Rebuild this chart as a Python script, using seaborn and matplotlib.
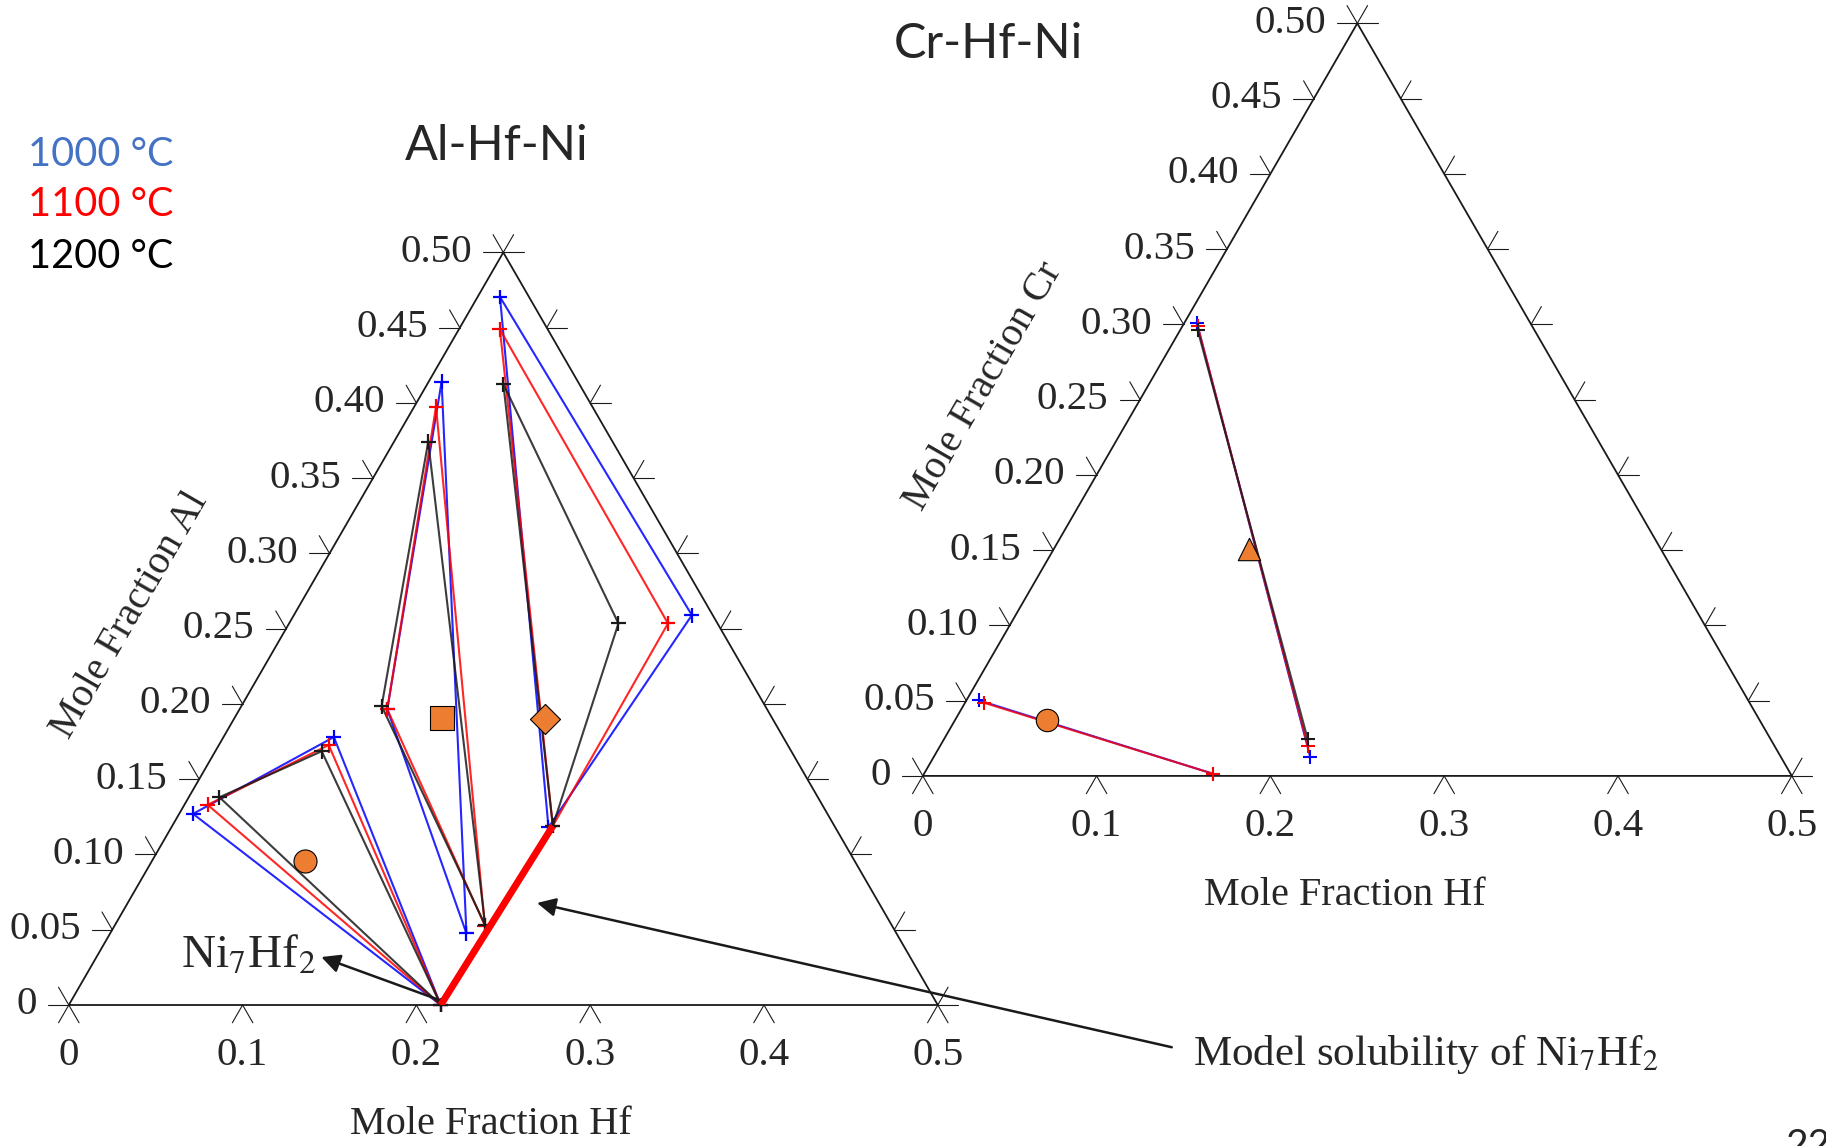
import numpy as np
import pandas as pd
import matplotlib
matplotlib.use('Agg')
import matplotlib.pyplot as plt
import seaborn as sns

sns.set_theme(style='white')
plt.rcParams['font.family'] = ['Liberation Serif', 'DejaVu Serif']
plt.rcParams['mathtext.fontset'] = 'stix'

SQ3 = np.sqrt(3) / 2

temps = ['1000 °C', '1100 °C', '1200 °C']
line_colors = ['#0000ff', '#ff0000', '#1a1a1a']
legend_colors = ['#4472c4', '#ff0000', '#000000']

# Al-Hf-Ni three-phase triangles, one row per temperature, vertices as (Hf, Al)
tri_a_hf = [[0.008, 0.0635, 0.214], [0.0134, 0.0632, 0.214], [0.0177, 0.0612, 0.214]]
tri_a_al = [[0.127, 0.178, 0.0], [0.133, 0.1727, 0.0], [0.138, 0.1686, 0.0]]
tri_b_hf = [[0.0075, 0.085, 0.205], [0.0126, 0.085, 0.213], [0.0197, 0.0807, 0.213]]
tri_b_al = [[0.414, 0.1965, 0.0476], [0.3974, 0.1965, 0.0528], [0.3742, 0.1986, 0.0531]]
tri_c_hf = [[0.0129, 0.217, 0.229], [0.0236, 0.219, 0.218], [0.0438, 0.219, 0.1895]]
tri_c_al = [[0.4704, 0.118, 0.259], [0.4489, 0.119, 0.2535], [0.4125, 0.119, 0.2535]]

# model solubility range of Ni7Hf2
ni7hf2_hf = [0.214, 0.219]
ni7hf2_al = [0.0, 0.119]

# Al-Hf-Ni alloys
al_sample_hf = [0.088, 0.119, 0.179]
al_sample_al = [0.096, 0.191, 0.190]
al_sample_marker = ['o', 's', 'D']

# Cr-Hf-Ni tie-lines, vertices as (Hf, Cr)
cr_tie1_hf = [[0.0074, 0.2166], [0.0088, 0.2117], [0.0102, 0.209]]
cr_tie1_cr = [[0.3007, 0.0126], [0.2988, 0.0197], [0.296, 0.0248]]
cr_tie2_hf = [[0.0072, 0.166], [0.0112, 0.166]]
cr_tie2_cr = [[0.0502, 0.0015], [0.0485, 0.0015]]

# Cr-Hf-Ni alloys
cr_sample_hf = [0.053, 0.112]
cr_sample_cr = [0.0374, 0.151]
cr_sample_marker = ['o', '^']

side_ticks = [0, 0.05, 0.10, 0.15, 0.20, 0.25, 0.30, 0.35, 0.40, 0.45, 0.50]
side_labels = ['0', '0.05', '0.10', '0.15', '0.20', '0.25', '0.30', '0.35', '0.40', '0.45', '0.50']
base_ticks = [0, 0.1, 0.2, 0.3, 0.4, 0.5]
base_labels = ['0', '0.1', '0.2', '0.3', '0.4', '0.5']

ORANGE = '#ed7d31'
W, H = 1826, 1146
PX = 1738.0  # pixels per composition unit


def to_xy(hf, other):
    hf = np.asarray(hf, dtype=float)
    other = np.asarray(other, dtype=float)
    return hf + other / 2, other * SQ3


def draw_frame(ax, side_name):
    # triangle outline
    ax.plot([0, 0.5, 0.25, 0], [0, 0, 0.5 * SQ3, 0], color='k', lw=1.3, clip_on=False)
    L = 0.0118
    tk = dict(color='k', lw=0.8, clip_on=False)
    for v, lab in zip(side_ticks, side_labels):
        xl, y = to_xy(0, v)
        ax.plot([xl - L, xl], [y, y], **tk)
        ax.plot([xl, xl - L * 0.5], [y, y + L * SQ3], **tk)
        xr, _ = to_xy(0.5 - v, v)
        ax.plot([xr, xr + L], [y, y], **tk)
        ax.plot([xr, xr + L * 0.5], [y, y + L * SQ3], **tk)
        ax.text(xl - L - 0.0063, y, lab, ha='right', va='center', fontsize=29.5)
    for h, lab in zip(base_ticks, base_labels):
        ax.plot([h - L * 0.5, h, h + L * 0.5], [-L * SQ3, 0, -L * SQ3], **tk)
        ax.text(h, -0.029, lab, ha='center', va='center', fontsize=29.5)
    ax.text(0.243, -0.069, 'Mole Fraction Hf', ha='center', va='center', fontsize=29)
    ax.text(0.035, 0.224, 'Mole Fraction ' + side_name, ha='center', va='center',
            rotation=60, rotation_mode='anchor', fontsize=29)
    ax.set_xlim(0, 0.5)
    ax.set_ylim(0, 0.5 * SQ3)
    ax.axis('off')


def tie_frames(hf_sets, x2_sets, close):
    line_rows, point_rows = [], []
    for k, (hfs, x2s) in enumerate(zip(hf_sets, x2_sets)):
        for t in range(len(hfs)):
            h, a = list(hfs[t]), list(x2s[t])
            x, y = to_xy(h, a)
            for i in range(len(h)):
                point_rows.append(dict(x=x[i], y=y[i], temp=temps[t]))
            if close:
                h, a = h + h[:1], a + a[:1]
            x, y = to_xy(h, a)
            for i in range(len(h)):
                line_rows.append(dict(x=x[i], y=y[i], temp=temps[t], unit=f'{k}-{t}'))
    return pd.DataFrame(line_rows), pd.DataFrame(point_rows)


fig = plt.figure(figsize=(W / 100, H / 100), dpi=100)
fig.patch.set_facecolor('white')
ax1 = fig.add_axes([68.8 / W, 1 - 1005 / H, 0.5 * PX / W, 0.5 * SQ3 * PX / H])
ax2 = fig.add_axes([922.8 / W, 1 - 775.9 / H, 0.5 * PX / W, 0.5 * SQ3 * PX / H])
for ax in (ax1, ax2):
    ax.patch.set_alpha(0)

draw_frame(ax1, 'Al')
draw_frame(ax2, 'Cr')

# ---- Al-Hf-Ni ----
lines_al, pts_al = tie_frames([tri_a_hf, tri_b_hf, tri_c_hf], [tri_a_al, tri_b_al, tri_c_al], close=True)
sns.lineplot(data=lines_al, x='x', y='y', hue='temp', units='unit', estimator=None, sort=False,
             hue_order=temps, palette=line_colors, lw=1.5, alpha=0.85, legend=False, ax=ax1,
             clip_on=False)
sns.scatterplot(data=pts_al, x='x', y='y', hue='temp', hue_order=temps, palette=line_colors,
                marker='+', s=115, linewidth=1.6, legend=False, ax=ax1, zorder=3, clip_on=False)

nx, ny = to_xy(ni7hf2_hf, ni7hf2_al)
ax1.plot(nx, ny, color='#ff0000', lw=5, solid_capstyle='butt', zorder=4)

sx, sy = to_xy(al_sample_hf, al_sample_al)
for x, y, m in zip(sx, sy, al_sample_marker):
    sns.scatterplot(x=[x], y=[y], marker=m, s=235 if m == 'D' else 275, color=ORANGE,
                    edgecolor='black', linewidth=0.8, ax=ax1, zorder=5, clip_on=False)

ax1.annotate('', xy=(0.1453, 0.0276), xytext=(0.2142, 0.0025), annotation_clip=False,
             arrowprops=dict(arrowstyle='-|>', color='k', lw=1.8, mutation_scale=28,
                             shrinkA=0, shrinkB=0))
ax1.annotate('', xy=(0.2694, 0.0587), xytext=(0.6346, -0.0243), annotation_clip=False,
             arrowprops=dict(arrowstyle='-|>', color='k', lw=1.8, mutation_scale=28,
                             shrinkA=0, shrinkB=0))

# ---- Cr-Hf-Ni ----
lines_cr, pts_cr = tie_frames([cr_tie1_hf, cr_tie2_hf], [cr_tie1_cr, cr_tie2_cr], close=False)
sns.lineplot(data=lines_cr, x='x', y='y', hue='temp', units='unit', estimator=None, sort=False,
             hue_order=temps, palette=line_colors, lw=1.5, alpha=0.8, legend=False, ax=ax2,
             clip_on=False)
sns.scatterplot(data=pts_cr, x='x', y='y', hue='temp', hue_order=temps, palette=line_colors,
                marker='+', s=100, linewidth=1.5, legend=False, ax=ax2, zorder=3, clip_on=False)

cx, cy = to_xy(cr_sample_hf, cr_sample_cr)
for x, y, m in zip(cx, cy, cr_sample_marker):
    sns.scatterplot(x=[x], y=[y], marker=m, s=260, color=ORANGE, edgecolor='black',
                    linewidth=0.8, ax=ax2, zorder=5, clip_on=False)

# ---- slide text ----
sans = ['Lato', 'DejaVu Sans']
fig.text(497 / W, 1 - 146 / H, 'Al-Hf-Ni', ha='center', va='center', fontsize=35, family=sans)
fig.text(988 / W, 1 - 44 / H, 'Cr-Hf-Ni', ha='center', va='center', fontsize=35, family=sans)
for i, (lab, col) in enumerate(zip(temps, legend_colors)):
    fig.text(28 / W, 1 - (154 + 51 * i) / H, lab, ha='left', va='center', fontsize=28.5,
             color=col, family=sans)

fig.text(181 / W, 1 - 968 / H, r'Ni$_7$Hf$_2$', ha='left', va='baseline', fontsize=34)
fig.text(1193 / W, 1 - 1065 / H, r'Model solubility of Ni$_7$Hf$_2$', ha='left', va='baseline',
         fontsize=31)
fig.text(1785 / W, 1 - 1128 / H, '22', ha='left', va='top', fontsize=28, family=sans)

fig.savefig('out.png', dpi=100, facecolor='white')
